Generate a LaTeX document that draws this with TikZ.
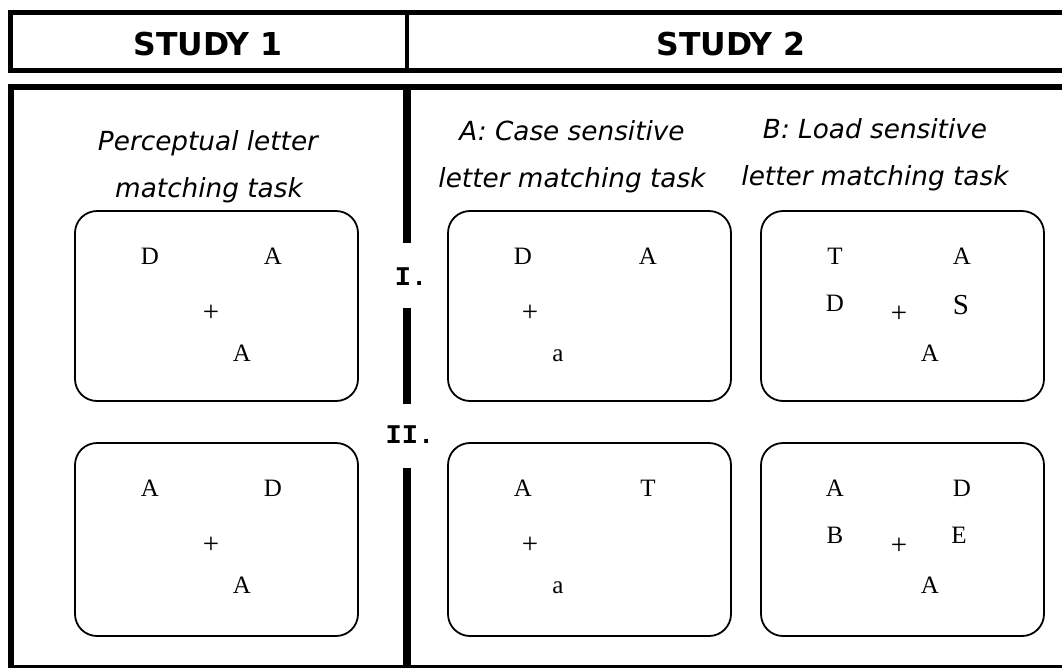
\documentclass[tikz,border=0pt]{standalone}
\usepackage{fontspec}
\setmainfont{Liberation Serif}
\newfontfamily\headfont{DejaVu Sans}
\newfontfamily\markfont{Liberation Mono}
\tikzset{
  frame/.style={line width=5pt, line cap=rect},
  panel/.style={draw, line width=1.8pt, rounded corners=22pt, minimum width=283pt, inner sep=0pt},
  rowone/.style={panel, minimum height=190pt},
  rowtwo/.style={panel, minimum height=193pt},
  head/.style={font=\headfont\bfseries\fontsize{31.5}{31.5}\selectfont, anchor=base},
  title/.style={font=\headfont\itshape\fontsize{26.3}{26.3}\selectfont, anchor=base},
  ltr/.style={font=\fontsize{25}{25}\selectfont, anchor=base, inner sep=0pt},
  bigltr/.style={font=\fontsize{29}{29}\selectfont, anchor=base, inner sep=0pt},
  fix/.style={font=\fontsize{29}{29}\selectfont, anchor=center, inner sep=0pt},
  rowmark/.style={font=\markfont\bfseries\fontsize{27}{27}\selectfont, anchor=center, inner sep=0pt}
}
\begin{document}
\begin{tikzpicture}[x=1pt, y=-1pt]
\useasboundingbox (0,0) rectangle (1062,667);
\clip (0,0) rectangle (1062,667);
\fill[white] (0,0) rectangle (1062,667);

% header table
\draw[frame] (10.5,12) rectangle (1075,70.5);
\draw[line width=4pt] (407,12) -- (407,70.5);
\node[head] (h1) at (208,55) {STUDY 1};
\node[head] (h2) at (731,55) {STUDY 2};

% body frame
\draw[line width=6pt, line cap=rect] (11,667) -- (11,86.5) -- (1075,86.5);
\draw[line width=3pt] (8,666) -- (1075,666);

% column divider, broken by the row labels
\draw[line width=7.5pt] (407,86) -- (407,243);
\draw[line width=7.5pt] (407,308) -- (407,404);
\draw[line width=7.5pt] (407,468) -- (407,670);
\node[rowmark] (r1) at (411,277) {I.};
\node[rowmark] (r2) at (410,435) {II.};

% task titles
\node[title] (t1a) at (208,150) {Perceptual letter};
\node[title] (t1b) at (209,197) {matching task};
\node[title] (t2a) at (572,140) {A: Case sensitive};
\node[title] (t2b) at (572,187) {letter matching task};
\node[title] (t3a) at (875,138) {B: Load sensitive};
\node[title] (t3b) at (875,185) {letter matching task};

% display panels
\node[rowone] (p11) at (216.5,306) {};
\node[rowone] (p21) at (589.5,306) {};
\node[rowone] (p31) at (902.5,306) {};
\node[rowtwo] (p12) at (216.5,539.5) {};
\node[rowtwo] (p22) at (589.5,539.5) {};
\node[rowtwo] (p32) at (902.5,539.5) {};

% Study 1, trial I
\node[ltr] (a1) at (150,264) {D};
\node[ltr] (a2) at (273,264) {A};
\node[fix] (a3) at (211,313) {+};
\node[ltr] (a4) at (242,361) {A};
% Study 1, trial II
\node[ltr] (b1) at (150,496) {A};
\node[ltr] (b2) at (273,496) {D};
\node[fix] (b3) at (211,545) {+};
\node[ltr] (b4) at (242,593) {A};

% Study 2A, trial I
\node[ltr] (c1) at (523,264) {D};
\node[ltr] (c2) at (648,264) {A};
\node[fix] (c3) at (530,313) {+};
\node[ltr] (c4) at (558,361) {a};
% Study 2A, trial II
\node[ltr] (d1) at (523,496) {A};
\node[ltr] (d2) at (648,496) {T};
\node[fix] (d3) at (530,545) {+};
\node[ltr] (d4) at (558,593) {a};

% Study 2B, trial I
\node[ltr] (e1) at (835,264) {T};
\node[ltr] (e2) at (962,264) {A};
\node[ltr] (e3) at (835,311) {D};
\node[fix] (e4) at (899,314) {+};
\node[bigltr] (e5) at (961,314) {S};
\node[ltr] (e6) at (930,361) {A};
% Study 2B, trial II
\node[ltr] (f1) at (835,496) {A};
\node[ltr] (f2) at (962,496) {D};
\node[ltr] (f3) at (835,543) {B};
\node[fix] (f4) at (899,546) {+};
\node[ltr] (f5) at (959,543) {E};
\node[ltr] (f6) at (930,593) {A};
\end{tikzpicture}
\end{document}
